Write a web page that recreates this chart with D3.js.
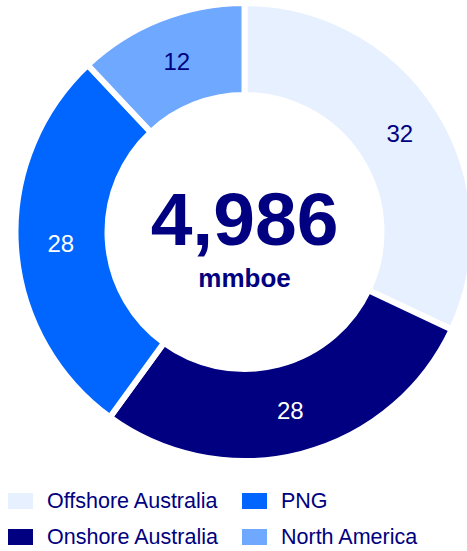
<!DOCTYPE html>
<html>
<head>
<meta charset="utf-8">
<script src="https://cdn.jsdelivr.net/npm/d3@7"></script>
<style>
html,body{margin:0;padding:0;background:#fff;}
svg{display:block;font-family:"Liberation Sans",Arial,sans-serif;}
</style>
</head>
<body>
<svg id="chart" width="467" height="551"></svg>
<script>
const categories = ["Offshore Australia", "Onshore Australia", "PNG", "North America"];
const values = [32, 28, 28, 12];
const colors = ["#e6f0ff", "#000080", "#0066ff", "#6ea8ff"];
const labelColors = ["#000080", "#ffffff", "#ffffff", "#000080"];
const centerValue = "4,986";
const centerUnit = "mmboe";
const legendOrder = [0, 2, 1, 3]; // row-major: Offshore, PNG / Onshore, North America

const svg = d3.select("#chart");
const cx = 244.5, cy = 232;
const g = svg.append("g").attr("transform", `translate(${cx},${cy})`);

const pie = d3.pie().sort(null).value(d => d)(values);
const arc = d3.arc().innerRadius(137).outerRadius(229);
const labelArc = d3.arc().innerRadius(184).outerRadius(184);

g.selectAll("path.slice").data(pie).enter().append("path")
  .attr("class", "slice")
  .attr("d", arc)
  .attr("fill", (d, i) => colors[i])
  .attr("stroke", "#fff")
  .attr("stroke-width", 6)
  .attr("stroke-linejoin", "miter");

g.selectAll("text.lbl").data(pie).enter().append("text")
  .attr("class", "lbl")
  .attr("transform", d => `translate(${labelArc.centroid(d)})`)
  .attr("text-anchor", "middle")
  .attr("dy", "0.36em")
  .attr("font-size", 24)
  .attr("fill", (d, i) => labelColors[i])
  .text(d => d.data);

g.append("text")
  .attr("x", 0).attr("y", 13)
  .attr("text-anchor", "middle")
  .attr("font-size", 75)
  .attr("font-weight", "bold")
  .attr("fill", "#000080")
  .text(centerValue);

g.append("text")
  .attr("x", 0).attr("y", 55)
  .attr("text-anchor", "middle")
  .attr("font-size", 26)
  .attr("font-weight", "bold")
  .attr("fill", "#000080")
  .text(centerUnit);

const legend = svg.append("g");
legendOrder.forEach((ci, k) => {
  const col = k % 2, row = Math.floor(k / 2);
  const x = col === 0 ? 8 : 242;
  const y = row === 0 ? 493 : 529;
  legend.append("rect").attr("x", x).attr("y", y).attr("width", 25).attr("height", 16)
    .attr("fill", colors[ci]);
  legend.append("text").attr("x", x + 39).attr("y", y + 15)
    .attr("font-size", 21.5).attr("fill", "#000080")
    .text(categories[ci]);
});
</script>
</body>
</html>
